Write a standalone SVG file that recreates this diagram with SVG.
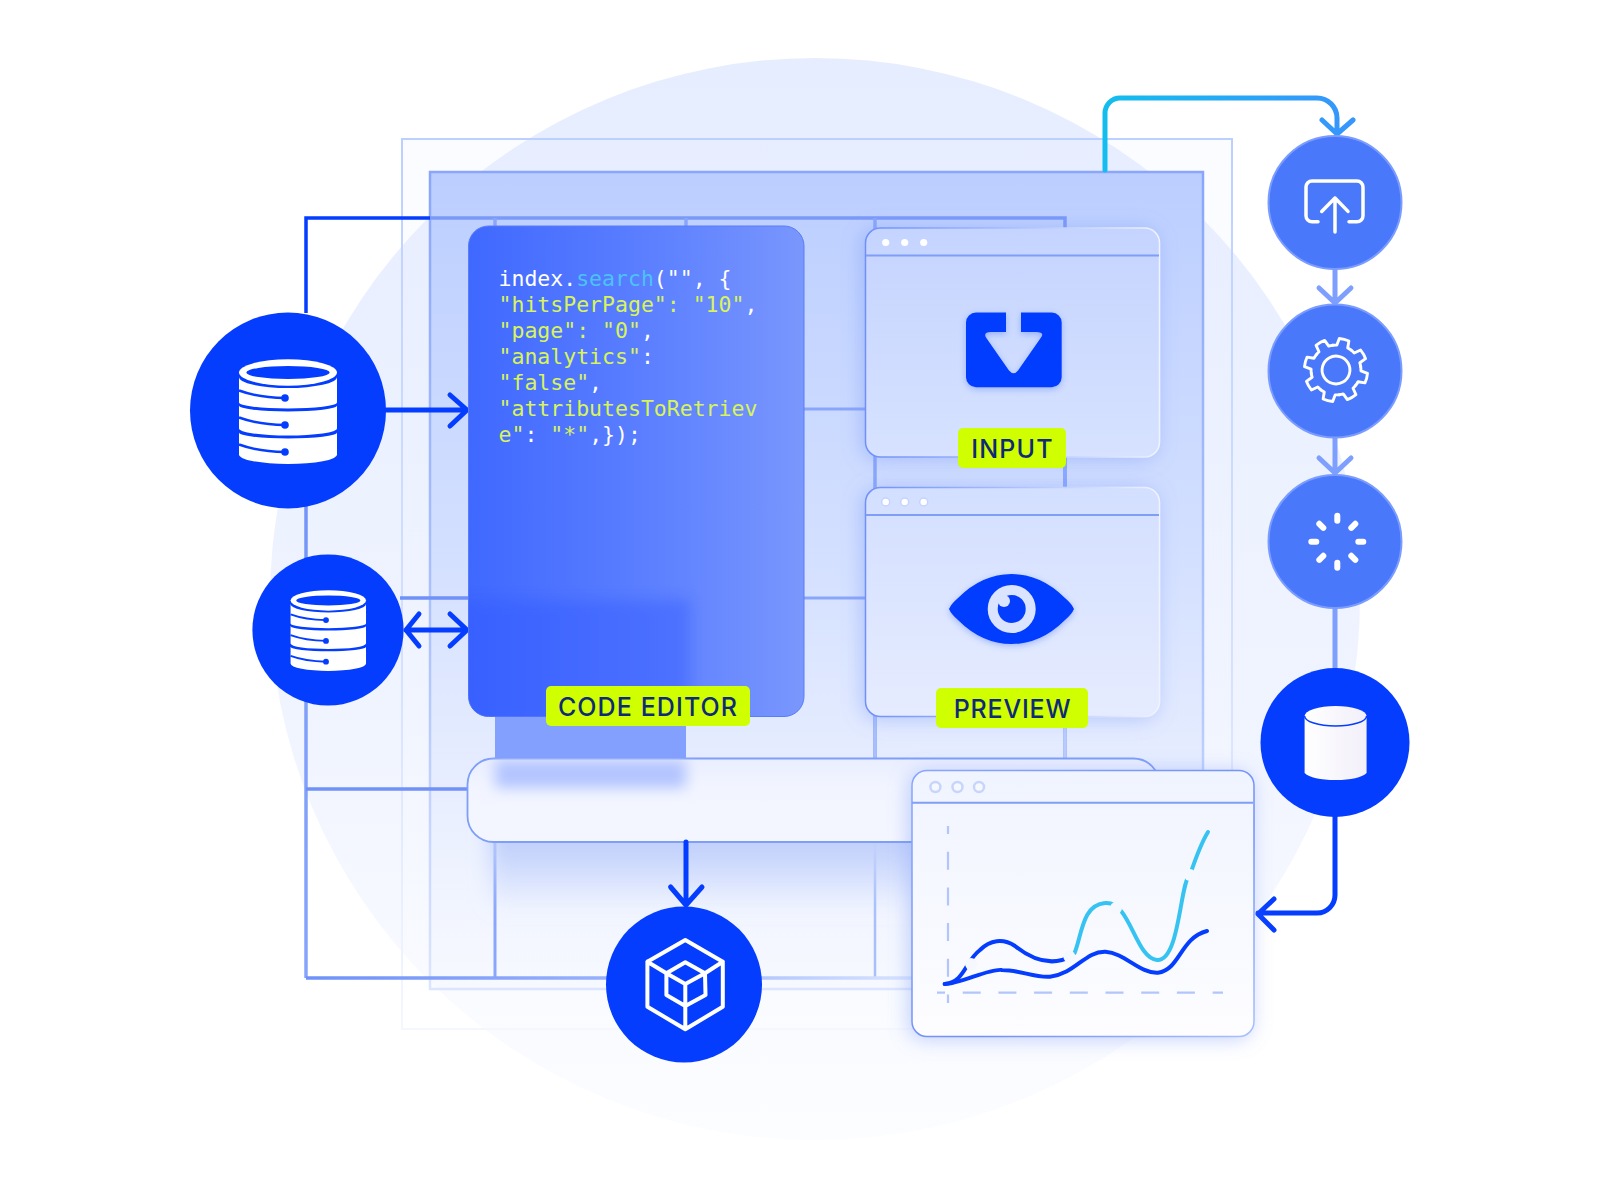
<svg xmlns="http://www.w3.org/2000/svg" xmlns:xlink="http://www.w3.org/1999/xlink" width="1600" height="1200" viewBox="0 0 1600 1200">
<defs>
<linearGradient id="bgC" x1="0" y1="0" x2="0" y2="1"><stop offset="0" stop-color="#e6edff"/><stop offset=".6" stop-color="#f0f4ff"/><stop offset="1" stop-color="#fcfdff"/></linearGradient>
<linearGradient id="outerS" gradientUnits="userSpaceOnUse" x1="0" y1="138" x2="0" y2="1029"><stop offset="0" stop-color="#bcd0ff"/><stop offset=".6" stop-color="#d5e1ff"/><stop offset="1" stop-color="#f5f7ff"/></linearGradient>
<linearGradient id="outerF" x1="0" y1="0" x2="0" y2="1"><stop offset="0" stop-color="#e4ebff" stop-opacity=".15"/><stop offset="1" stop-color="#fff" stop-opacity=".2"/></linearGradient>
<linearGradient id="innerF" x1="0" y1="0" x2="0" y2="1"><stop offset="0" stop-color="#bbceff"/><stop offset=".5" stop-color="#d5e1ff"/><stop offset=".8" stop-color="#e8eeff" stop-opacity=".8"/><stop offset="1" stop-color="#f4f7ff" stop-opacity=".5"/></linearGradient>
<linearGradient id="innerS" gradientUnits="userSpaceOnUse" x1="0" y1="171" x2="0" y2="989"><stop offset="0" stop-color="#8aa6fa"/><stop offset=".6" stop-color="#b0c5fd"/><stop offset="1" stop-color="#dce5ff"/></linearGradient>
<linearGradient id="gridV" gradientUnits="userSpaceOnUse" x1="0" y1="218" x2="0" y2="978"><stop offset="0" stop-color="#5f83f6"/><stop offset=".6" stop-color="#7f9ef8"/><stop offset="1" stop-color="#86a4fb"/></linearGradient>
<linearGradient id="gridB" gradientUnits="userSpaceOnUse" x1="306" y1="0" x2="920" y2="0"><stop offset="0" stop-color="#6f91f8"/><stop offset=".6" stop-color="#9fb7fd"/><stop offset="1" stop-color="#dbe5ff"/></linearGradient>
<linearGradient id="editor" x1="0" y1="0" x2="1" y2="0"><stop offset="0" stop-color="#3f68ff"/><stop offset=".6" stop-color="#5f82ff"/><stop offset="1" stop-color="#7a97fd"/></linearGradient>
<linearGradient id="win1" x1="0" y1="0" x2="0" y2="1"><stop offset="0" stop-color="#c5d4ff"/><stop offset="1" stop-color="#d6e2ff"/></linearGradient>
<linearGradient id="win2" x1="0" y1="0" x2="0" y2="1"><stop offset="0" stop-color="#d3dfff"/><stop offset="1" stop-color="#e6ecff"/></linearGradient>
<linearGradient id="win3" x1="0" y1="0" x2="0" y2="1"><stop offset="0" stop-color="#f0f4ff"/><stop offset="1" stop-color="#fdfdff"/></linearGradient>
<linearGradient id="winS" x1="0" y1="0" x2="1" y2="0"><stop offset="0" stop-color="#6f90f8"/><stop offset=".5" stop-color="#a9c0fd"/><stop offset="1" stop-color="#eef3ff"/></linearGradient>
<linearGradient id="winS3" x1="0" y1="0" x2="1" y2="1"><stop offset="0" stop-color="#8aa6fb"/><stop offset=".6" stop-color="#6f90f8"/><stop offset="1" stop-color="#a9c0fd"/></linearGradient>
<linearGradient id="boxF" x1="0" y1="0" x2="0" y2="1"><stop offset="0" stop-color="#e9eeff"/><stop offset=".35" stop-color="#f2f5ff"/><stop offset="1" stop-color="#f4f6ff"/></linearGradient>
<linearGradient id="cyan" gradientUnits="userSpaceOnUse" x1="1105" y1="0" x2="1337" y2="0"><stop offset="0" stop-color="#13bdee"/><stop offset="1" stop-color="#3597fb"/></linearGradient>
<linearGradient id="shadowB" x1="0" y1="0" x2="0" y2="1"><stop offset="0" stop-color="#b9cafb"/><stop offset=".35" stop-color="#c3d2fc"/><stop offset="1" stop-color="#c3d2fc" stop-opacity="0"/></linearGradient>
<linearGradient id="dbW" x1="0" y1="0" x2="1" y2="0"><stop offset="0" stop-color="#fff"/><stop offset="1" stop-color="#f2eff9"/></linearGradient>
<filter id="sh" x="-15%" y="-15%" width="130%" height="130%"><feDropShadow dx="-3" dy="2" stdDeviation="10" flood-color="#6d8ff5" flood-opacity=".4"/></filter>
<filter id="b8" x="-20%" y="-50%" width="140%" height="200%"><feGaussianBlur stdDeviation="7"/></filter>
<filter id="b14" x="-20%" y="-80%" width="140%" height="260%"><feGaussianBlur stdDeviation="10"/></filter>
<filter id="ish" x="-15%" y="-15%" width="130%" height="130%"><feDropShadow dx="0" dy="2" stdDeviation="3" flood-color="#2f5cf0" flood-opacity=".35"/></filter>
<clipPath id="edClip"><rect x="468.500" y="226" width="335.500" height="490.500" rx="20"/></clipPath>
<clipPath id="boxClip"><rect x="467" y="758" width="692" height="84" rx="26"/></clipPath>
<g id="db">
<ellipse cx="0" cy="-39" rx="49" ry="13.200" fill="#fff"/><ellipse cx="0" cy="-39" rx="41.700" ry="6.500" fill="#053dff"/>
<path d="M-49,-34.500A49,11 0 0 0 49,-34.500V-9A49,6 0 0 1 -49,-9Z" fill="#fff"/>
<path d="M-49,-6A49,6 0 0 0 49,-6V17A49,7 0 0 1 -49,17Z" fill="#fff"/>
<path d="M-49,21A49,6 0 0 0 49,21V43A49,9.500 0 0 1 -49,43Z" fill="#fff"/>
<g fill="none" stroke="#053dff" stroke-width="2.500"><path d="M-49,-21Q-30,-14 -3,-13.500"/><path d="M-49,6Q-30,13 -3,13.500"/><path d="M-49,33Q-30,40 -3,40.500"/></g>
<g fill="#053dff"><circle cx="-3" cy="-13.500" r="3.800"/><circle cx="-3" cy="13.500" r="3.800"/><circle cx="-3" cy="40.500" r="3.800"/></g>
</g>
<path id="tooth" d="M24,-9.950A26,26 0 0 1 25.300,-5.850L32.600,-5.160Q33.500,0 32.600,5.160L25.300,5.850A26,26 0 0 1 24,9.950"/>
</defs>
<style>
.wire{fill:none;stroke-linecap:round;stroke-linejoin:round}
.grid{fill:none;stroke-width:3.500}
.tag{fill:#cfff00}
.tagt{font-family:Inter,"Liberation Sans",sans-serif;font-size:25px;font-weight:500;fill:#0e2a78;text-anchor:middle;letter-spacing:1px}
.code{font-family:"DejaVu Sans Mono","Liberation Mono",monospace;font-size:21.500px;fill:#d8f45a}
.ico{fill:none;stroke:#fff;stroke-linecap:round;stroke-linejoin:round}
.hub{fill:#053dff}
.step{fill:#4a78fb;stroke:#7b9cff;stroke-width:2}
</style>
<rect width="1600" height="1200" fill="#fff"/>
<g id="backdrop">
<ellipse cx="815" cy="599" rx="545" ry="541" fill="url(#bgC)"/>
<rect x="402" y="139" width="830" height="890" fill="url(#outerF)" stroke="url(#outerS)" stroke-width="2"/>
<rect x="430" y="172" width="773" height="817" fill="url(#innerF)" stroke="url(#innerS)" stroke-width="2.500"/>
</g>
<g id="connectors">
<g class="grid">
<path d="M430,218H1065V760" stroke="#7a99f9"/>
<path d="M495,218V240M686,218V240M875,218V760" stroke="#8aa6fb"/>
<path d="M1065,456V487" stroke="#8ba8ff"/>
<path d="M1065,716V760" stroke="#b9cbfd"/>
<path d="M875,716V760M875,842V978" stroke="#a9bffc" stroke-width="2.500"/>
<path d="M495,842V978" stroke="#8aa6fb" stroke-width="3"/>
<path d="M306,505V978" stroke="url(#gridV)"/>
<path d="M306,978H920" stroke="url(#gridB)"/>
<path d="M306,789H467" stroke="#6f91f8"/>
<path d="M804,409H865M804,598H865" stroke="#8aa6fb" stroke-width="3"/>
<path d="M400,598H470" stroke="#6f91f8"/>
<path d="M306,313V218H430" stroke="#053dff"/>
</g>
<rect x="495" y="598" width="191" height="170" fill="#84a0ff"/>
<g class="wire" stroke-width="5">
<path d="M1105,170V113A15,15 0 0 1 1120,98H1317A20,20 0 0 1 1337,118V134M1322,120L1337,134L1353,120" stroke="url(#cyan)"/>
<path d="M1335,269V303M1319,288L1335,303L1351,288" stroke="#7f9fff"/>
<path d="M1335,438V473M1319,458L1335,473L1351,458" stroke="#7f9fff"/>
<path d="M1335,608V670" stroke="#7f9fff"/>
<path d="M1335,816V895A18,18 0 0 1 1317,913H1258M1274,899L1258,914L1274,930" stroke="#053dff"/>
<path d="M386,410H467M450,395L467,410L450,426" stroke="#053dff"/>
<path d="M406,630H467M450,614L467,630L450,646M419,614L406,630L419,646" stroke="#053dff"/>
</g>
</g>
<rect x="490" y="815" width="430" height="95" fill="url(#shadowB)" filter="url(#b14)"/>
<g id="node-editor">
<rect x="468.500" y="226" width="335.500" height="490.500" rx="20" fill="url(#editor)" stroke="#5a7cf8" stroke-width="1"/>
<g clip-path="url(#edClip)"><rect x="440" y="600" width="250" height="140" fill="#2f57ff" opacity=".38" filter="url(#b8)"/></g>
<text class="code" x="498.500" y="286"><tspan fill="#fff">index.</tspan><tspan fill="#4cc3f5">search</tspan><tspan fill="#fff">("", {</tspan></text>
<text class="code" x="498.500" y="312">"hitsPerPage": "10"<tspan fill="#fff">,</tspan></text>
<text class="code" x="498.500" y="338">"page": "0"<tspan fill="#fff">,</tspan></text>
<text class="code" x="498.500" y="364">"analytics"<tspan fill="#fff">:</tspan></text>
<text class="code" x="498.500" y="390">"false"<tspan fill="#fff">,</tspan></text>
<text class="code" x="498.500" y="416">"attributesToRetriev</text>
<text class="code" x="498.500" y="442">e"<tspan fill="#fff">: </tspan>"*"<tspan fill="#fff">,});</tspan></text>
<rect class="tag" x="546" y="686" width="204" height="40" rx="5"/>
<text class="tagt" x="648" y="716" style="letter-spacing:1.100px">CODE EDITOR</text>
</g>
<g id="node-input">
<rect x="865.500" y="228" width="294" height="229" rx="15" fill="url(#win1)" stroke="url(#winS)" stroke-width="1.500" filter="url(#sh)"/>
<path d="M866,255.500H1159" stroke="#7f9ef8" stroke-width="2"/>
<g fill="#fff"><circle cx="885.700" cy="242.500" r="3.600"/><circle cx="904.700" cy="242.500" r="3.600"/><circle cx="923.700" cy="242.500" r="3.600"/></g>
<path d="M976,312.600H1006V332H991Q983,332 986,337.500L1009,370.500Q1013.700,376 1018,370.500L1041,337.500Q1045,332 1036,332H1021V312.600H1051.700A10,10 0 0 1 1061.700,322.600V377.300A10,10 0 0 1 1051.700,387.300H976A10,10 0 0 1 966,377.300V322.600A10,10 0 0 1 976,312.600Z" fill="#053dff" filter="url(#ish)"/>
<rect class="tag" x="958" y="428" width="108" height="40" rx="5"/>
<text class="tagt" x="1012.500" y="458" style="letter-spacing:1.200px">INPUT</text>
</g>
<g id="node-preview">
<rect x="865.500" y="487.500" width="294" height="229" rx="15" fill="url(#win2)" stroke="url(#winS)" stroke-width="1.500" filter="url(#sh)"/>
<path d="M866,515H1159" stroke="#7f9ef8" stroke-width="2"/>
<g fill="#fff" stroke="#c4d3ff" stroke-width="1.500"><circle cx="885.700" cy="502" r="4"/><circle cx="904.700" cy="502" r="4"/><circle cx="923.700" cy="502" r="4"/></g>
<path d="M949,609Q951,604 958,598Q982,574 1011.500,574Q1041,574 1065,598Q1072,604 1074,609Q1072,614 1065,620Q1041,644 1011.500,644Q982,644 958,620Q951,614 949,609Z" fill="#053dff" filter="url(#ish)"/>
<circle cx="1011.700" cy="609" r="24" fill="#dbe4ff"/>
<circle cx="1011.700" cy="609" r="14" fill="#053dff"/>
<circle cx="1004" cy="601" r="6" fill="#dbe4ff"/>
<rect class="tag" x="936" y="688" width="152" height="40" rx="5"/>
<text class="tagt" x="1012.500" y="718" style="letter-spacing:.8px">PREVIEW</text>
</g>
<g id="node-bar">
<rect x="467.500" y="758.500" width="692" height="83.500" rx="26" fill="url(#boxF)" stroke="#7f9ef8" stroke-width="1.800"/>
<g clip-path="url(#boxClip)"><rect x="495" y="760" width="191" height="28" fill="#b3c4ff" filter="url(#b8)"/></g>
</g>
<path class="wire" d="M686,842V904M670.600,887L686,905L702,887" stroke="#053dff" stroke-width="5" fill="none"/>
<g id="node-chart">
<rect x="912" y="770.500" width="342" height="266" rx="15" fill="url(#win3)" stroke="url(#winS3)" stroke-width="1.500" filter="url(#sh)"/>
<path d="M912,802.700H1253" stroke="#7f9ef8" stroke-width="2"/>
<g fill="#f6f8ff" stroke="#c7d5fd" stroke-width="2.500"><circle cx="935.400" cy="787" r="5"/><circle cx="957.500" cy="787" r="5"/><circle cx="979" cy="787" r="5"/></g>
<g fill="none" stroke="#b3c5fb" stroke-width="2.200" stroke-dasharray="18 17.700" stroke-dashoffset="10"><path d="M948,826V1003"/><path d="M937,992.700H1223"/></g>
<g fill="none" stroke-width="4" stroke-linecap="round">
<path d="M944.700,984C960,984 990,968 1002,970C1020,970 1035,978 1050,976.700C1075,974 1085,951 1105.500,951.700C1125,953 1140,974 1158,972.700C1180,970 1180,938 1207,931" stroke="#053dff"/>
<path d="M944.700,984C965,982 965,961 980,950C990,940 1003,938 1015,946C1030,958 1050,968 1072,956" stroke="#053dff"/>
<path d="M1074.600,953C1082,935 1082,905 1105,903C1130,900 1135,958 1157,960C1180,962 1180,880 1190,875C1195,860 1200,845 1208,832" stroke="#36c3f2"/>
</g>
<g fill="#f6f8ff"><circle cx="971" cy="964" r="6"/><circle cx="1069.400" cy="956.700" r="6"/><circle cx="1116" cy="908" r="6"/><circle cx="1190" cy="875" r="6"/></g>
</g>
<g id="node-db-large"><circle class="hub" cx="288" cy="410.500" r="98"/><use xlink:href="#db" href="#db" transform="translate(288,411.500)"/></g>
<g id="node-db-small"><circle class="hub" cx="328" cy="630" r="75.600"/><use xlink:href="#db" href="#db" transform="translate(328.300,630.500) scale(.77)"/></g>
<g id="node-cube"><circle class="hub" cx="684" cy="984.500" r="78"/>
<path class="ico" stroke-width="4" d="M685.300,940L722.800,961.700V1006.700L685.300,1029.300L647.400,1006.700V961.700ZM685.300,962.300L705,973.300L705.500,995L685.300,1006L666.400,995V973.300ZM666.400,973.300L685.300,984L705,973.300M685.300,984V1029.300M647.400,961.700L666.400,973.300M722.800,961.700L705,973.300"/></g>
<g id="node-upload"><circle class="step" cx="1335" cy="202.500" r="66.500"/>
<path class="ico" stroke-width="3.500" d="M1318,221.800H1312A6,6 0 0 1 1306,215.800V187A6,6 0 0 1 1312,181H1357A6,6 0 0 1 1363,187V215.800A6,6 0 0 1 1357,221.800H1349M1335,232V198M1321.700,211.400L1335,198L1348,211.400"/></g>
<g id="node-gear"><circle class="step" cx="1335" cy="371" r="66.500"/>
<g class="ico" stroke-width="3" transform="translate(1336,370) rotate(15) scale(.96)"><use href="#tooth"/><use href="#tooth" transform="rotate(45)"/><use href="#tooth" transform="rotate(90)"/><use href="#tooth" transform="rotate(135)"/><use href="#tooth" transform="rotate(180)"/><use href="#tooth" transform="rotate(225)"/><use href="#tooth" transform="rotate(270)"/><use href="#tooth" transform="rotate(315)"/><circle r="14.500"/></g></g>
<g id="node-spinner"><circle class="step" cx="1335" cy="541.500" r="66.500"/>
<path class="ico" stroke-width="6" transform="translate(1337.300,541.800)" d="M0,-26V-21M0,26V21M26,0H21M-26,0H-21M18,-18L14,-14M-18,-18L-14,-14M18,18L14,14M-18,18L-14,14"/></g>
<g id="node-db-plain"><circle class="hub" cx="1335" cy="742.500" r="74.500"/>
<path d="M1304.600,716V773Q1312,780 1335.600,780Q1359,780 1366.600,773V716Z" fill="url(#dbW)"/>
<ellipse cx="1335.600" cy="716" rx="31" ry="10" fill="url(#dbW)"/>
<path d="M1304.600,716A31,10 0 0 0 1366.600,716" fill="none" stroke="#053dff" stroke-width="1.500"/></g>
</svg>
